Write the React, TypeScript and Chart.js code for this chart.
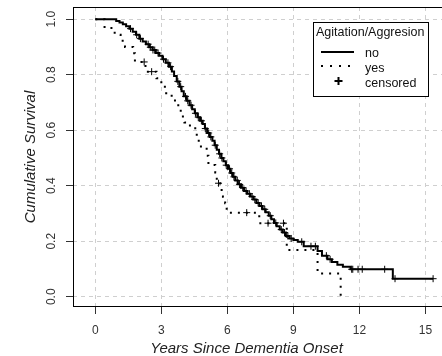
import React, { useEffect, useRef } from "react";
import { Chart, registerables } from "chart.js";

Chart.register(...registerables);

// ---- data ----
const xTicks = [0, 3, 6, 9, 12, 15];
const yTicks = [0, 0.2, 0.4, 0.6, 0.8, 1.0];
const yTickLabels = ["0.0", "0.2", "0.4", "0.6", "0.8", "1.0"];

const xTitle = "Years Since Dementia Onset";
const yTitle = "Cumulative Survival";
const legendTitle = "Agitation/Aggresion";
const legendLabels = ["no", "yes", "censored"];

// Kaplan-Meier "no" group: event times and survival after each event
const noTimes = [0, 0.95, 1.10, 1.25, 1.40, 1.55, 1.70, 1.85, 2.00, 2.15, 2.30, 2.45, 2.60, 2.75, 2.90, 3.05, 3.20, 3.35, 3.48, 3.58, 3.70, 3.82, 3.92, 4.02, 4.15, 4.28, 4.40, 4.52, 4.64, 4.76, 4.88, 4.98, 5.08, 5.20, 5.32, 5.42, 5.52, 5.62, 5.72, 5.82, 5.93, 6.03, 6.14, 6.25, 6.36, 6.48, 6.62, 6.76, 6.90, 7.04, 7.18, 7.32, 7.46, 7.60, 7.74, 7.88, 8.00, 8.12, 8.24, 8.38, 8.52, 8.66, 8.82, 9.00, 9.20, 9.47, 10.10, 10.30, 10.55, 10.75, 11.00, 11.25, 11.60, 13.52, 15.35];
const noSurv = [1.000, 0.994, 0.988, 0.982, 0.975, 0.966, 0.955, 0.944, 0.930, 0.920, 0.910, 0.899, 0.889, 0.878, 0.868, 0.856, 0.843, 0.829, 0.812, 0.795, 0.776, 0.757, 0.740, 0.722, 0.706, 0.690, 0.676, 0.661, 0.647, 0.634, 0.622, 0.606, 0.590, 0.576, 0.562, 0.546, 0.530, 0.515, 0.500, 0.488, 0.474, 0.461, 0.446, 0.432, 0.419, 0.405, 0.393, 0.381, 0.371, 0.361, 0.350, 0.338, 0.327, 0.315, 0.304, 0.292, 0.279, 0.266, 0.254, 0.242, 0.231, 0.219, 0.210, 0.204, 0.198, 0.182, 0.165, 0.148, 0.135, 0.125, 0.115, 0.108, 0.099, 0.065, 0.065];

// Kaplan-Meier "yes" group
const yesTimes = [0, 0.42, 0.88, 1.15, 1.35, 1.72, 1.80, 2.28, 2.78, 3.00, 3.22, 3.47, 3.62, 3.77, 3.93, 4.05, 4.30, 4.61, 4.70, 5.06, 5.14, 5.45, 5.52, 5.67, 5.80, 5.90, 5.97, 7.45, 8.70, 10.10, 11.15];
const yesSurv = [1.000, 0.968, 0.944, 0.922, 0.900, 0.877, 0.846, 0.811, 0.787, 0.757, 0.733, 0.715, 0.690, 0.670, 0.649, 0.628, 0.607, 0.571, 0.541, 0.508, 0.475, 0.448, 0.409, 0.385, 0.360, 0.337, 0.303, 0.265, 0.168, 0.084, 0.000];

// censoring times
const noCensorTimes = [1.60, 1.88, 2.05, 2.40, 2.50, 2.62, 2.70, 2.85, 3.10, 3.30, 3.42, 3.75, 3.88, 4.10, 4.20, 4.35, 4.55, 4.68, 4.82, 5.00, 5.15, 5.25, 5.45, 5.65, 5.75, 5.95, 6.10, 6.20, 6.30, 6.45, 6.55, 6.70, 6.85, 7.00, 7.12, 7.25, 7.40, 7.55, 7.70, 7.95, 8.20, 8.45, 8.60, 8.75, 8.90, 9.38, 9.80, 10.00, 10.50, 10.67, 11.65, 11.70, 11.94, 12.13, 13.15, 13.62, 15.35];
const yesCensorTimes = [2.22, 2.56, 5.60, 6.88, 7.85, 8.55];

const FONT = "'Liberation Sans', Arial, Helvetica, sans-serif";

function survAt(times: number[], surv: number[], t: number): number {
  let v = surv[0];
  for (let i = 0; i < times.length; i++) {
    if (times[i] <= t) v = surv[i];
  }
  return v;
}

const decorPlugin = {
  id: "decor",
  afterDraw(chart: any) {
    const { ctx, chartArea, scales } = chart;
    const ys = scales.y;
    ctx.save();
    // plot box
    ctx.strokeStyle = "#000";
    ctx.lineWidth = 1;
    ctx.strokeRect(
      Math.round(chartArea.left) + 0.5,
      Math.round(chartArea.top) + 0.5,
      chartArea.right - chartArea.left,
      Math.round(chartArea.bottom - chartArea.top) - 1
    );

    // y tick labels (rotated, R style)
    ctx.fillStyle = "#333";
    ctx.font = `12px ${FONT}`;
    ctx.textAlign = "center";
    ctx.textBaseline = "alphabetic";
    yTicks.forEach((v, i) => {
      const py = ys.getPixelForValue(v);
      ctx.save();
      ctx.translate(55, py);
      ctx.rotate(-Math.PI / 2);
      ctx.fillText(yTickLabels[i], 0, 0);
      ctx.restore();
    });

    // axis titles
    ctx.fillStyle = "#222";
    ctx.font = `italic 15px ${FONT}`;
    ctx.textAlign = "center";
    ctx.fillText(xTitle, 246.5, 352.5);
    ctx.save();
    ctx.translate(35, (chartArea.top + chartArea.bottom) / 2);
    ctx.rotate(-Math.PI / 2);
    ctx.fillText(yTitle, 0, 0);
    ctx.restore();

    // legend
    const lx = 313.5, ly = 22.5, lw = 115, lh = 74;
    ctx.fillStyle = "#fff";
    ctx.fillRect(lx, ly, lw, lh);
    ctx.strokeStyle = "#000";
    ctx.lineWidth = 1;
    ctx.strokeRect(lx, ly, lw, lh);
    ctx.fillStyle = "#111";
    ctx.font = `12.5px ${FONT}`;
    ctx.textAlign = "left";
    ctx.fillText(legendTitle, 316, 36);
    const baselines = [56.5, 71.5, 86.5];
    legendLabels.forEach((lab, i) => ctx.fillText(lab, 365, baselines[i]));
    // solid sample
    ctx.strokeStyle = "#000";
    ctx.lineWidth = 2;
    ctx.beginPath();
    ctx.moveTo(321, 52);
    ctx.lineTo(354, 52);
    ctx.stroke();
    // dotted sample
    ctx.setLineDash([2, 7]);
    ctx.beginPath();
    ctx.moveTo(321, 66);
    ctx.lineTo(356, 66);
    ctx.stroke();
    ctx.setLineDash([]);
    // cross sample
    ctx.lineWidth = 2;
    ctx.beginPath();
    ctx.moveTo(334.5, 81);
    ctx.lineTo(342.5, 81);
    ctx.moveTo(338.5, 77);
    ctx.lineTo(338.5, 85);
    ctx.stroke();
    ctx.restore();
  },
};

export default function App() {
  const ref = useRef<HTMLCanvasElement | null>(null);

  useEffect(() => {
    if (!ref.current) return;
    const noPts = noTimes.map((t, i) => ({ x: t, y: noSurv[i] }));
    const yesPts = yesTimes.map((t, i) => ({ x: t, y: yesSurv[i] }));
    const noCens = noCensorTimes.map((t) => ({ x: t, y: survAt(noTimes, noSurv, t) }));
    const yesCens = yesCensorTimes.map((t) => ({ x: t, y: survAt(yesTimes, yesSurv, t) }));

    const gridCommon = {
      color: "#cfcfcf",
      lineWidth: 1,
      drawTicks: true,
      tickLength: 7,
      tickColor: "#333",
      tickWidth: 1,
      tickBorderDash: [],
    };

    const chart = new Chart(ref.current, {
      type: "line",
      data: {
        datasets: [
          {
            label: legendLabels[0],
            data: noPts,
            stepped: "before",
            borderColor: "#000",
            borderWidth: 2,
            pointRadius: 0,
            fill: false,
          },
          {
            label: legendLabels[1],
            data: yesPts,
            stepped: "before",
            borderColor: "#000",
            borderWidth: 2,
            borderDash: [2, 6],
            borderCapStyle: "butt",
            pointRadius: 0,
            fill: false,
          },
          {
            type: "scatter",
            label: legendLabels[2],
            data: noCens,
            pointStyle: "cross",
            pointRadius: 3.5,
            borderColor: "#000",
            borderWidth: 1,
            showLine: false,
          } as any,
          {
            type: "scatter",
            label: legendLabels[2],
            data: yesCens,
            pointStyle: "cross",
            pointRadius: 3.5,
            borderColor: "#000",
            borderWidth: 1,
            showLine: false,
          } as any,
        ],
      },
      options: {
        animation: false,
        responsive: false,
        devicePixelRatio: 1,
        layout: { padding: { top: 7, right: 16, left: 0, bottom: 0 } },
        font: { family: FONT },
        scales: {
          x: {
            type: "linear",
            min: -1.014,
            max: 16.3,
            afterBuildTicks: (s: any) => {
              s.ticks = xTicks.map((v) => ({ value: v }));
            },
            afterFit: (s: any) => {
              s.height = 49;
            },
            grid: gridCommon,
            border: { display: false, dash: [4, 4] },
            ticks: {
              color: "#333",
              font: { size: 12, family: FONT },
              padding: 9,
              maxRotation: 0,
              minRotation: 0,
            },
          },
          y: {
            type: "linear",
            min: -0.037,
            max: 1.044,
            afterBuildTicks: (s: any) => {
              s.ticks = yTicks.map((v) => ({ value: v }));
            },
            afterFit: (s: any) => {
              s.width = 73;
            },
            grid: gridCommon,
            border: { display: false, dash: [4, 4] },
            ticks: { display: false },
          },
        },
        plugins: {
          legend: { display: false },
          tooltip: { enabled: false },
        },
      } as any,
      plugins: [decorPlugin],
    });
    return () => chart.destroy();
  }, []);

  return (
    <div
      style={{
        position: "fixed",
        left: 0,
        top: 0,
        width: 442,
        height: 356,
        overflow: "hidden",
        background: "#fff",
      }}
    >
      <canvas ref={ref} width={470} height={356} style={{ display: "block", width: 470, height: 356 }} />
    </div>
  );
}
